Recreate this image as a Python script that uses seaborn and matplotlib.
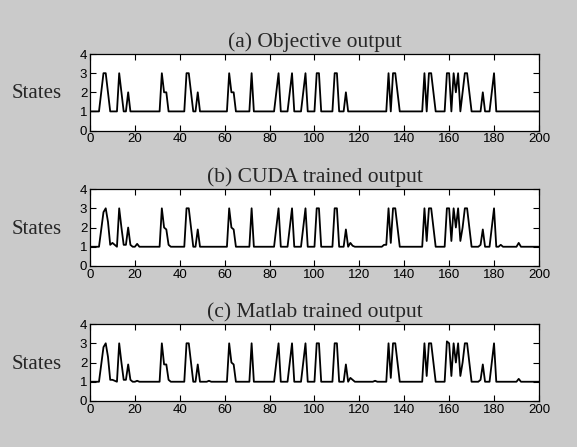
import numpy as np
import pandas as pd
import matplotlib
matplotlib.use("Agg")
import matplotlib.pyplot as plt
import seaborn as sns

# state sequences, time steps 0..200
time_steps = np.arange(0, 201)

objective = [
    1, 1, 1, 1, 1, 2, 3, 3, 2, 1, 1, 1, 1, 3, 2, 1, 1, 2, 1, 1,
    1, 1, 1, 1, 1, 1, 1, 1, 1, 1, 1, 1, 3, 2, 2, 1, 1, 1, 1, 1,
    1, 1, 1, 3, 3, 2, 1, 1, 2, 1, 1, 1, 1, 1, 1, 1, 1, 1, 1, 1,
    1, 1, 3, 2, 2, 1, 1, 1, 1, 1, 1, 1, 3, 1, 1, 1, 1, 1, 1, 1,
    1, 1, 1, 2, 3, 1, 1, 1, 1, 2, 3, 1, 1, 1, 1, 2, 3, 1, 1, 1,
    1, 3, 3, 1, 1, 1, 1, 1, 1, 3, 3, 1, 1, 1, 2, 1, 1, 1, 1, 1,
    1, 1, 1, 1, 1, 1, 1, 1, 1, 1, 1, 1, 1, 3, 1, 3, 3, 2, 1, 1,
    1, 1, 1, 1, 1, 1, 1, 1, 1, 3, 1, 3, 3, 2, 1, 1, 1, 1, 1, 3,
    3, 1, 3, 2, 3, 1, 2, 3, 3, 2, 1, 1, 1, 1, 1, 2, 1, 1, 1, 2,
    3, 1, 1, 1, 1, 1, 1, 1, 1, 1, 1, 1, 1, 1, 1, 1, 1, 1, 1, 1,
    1,
]

cuda_trained = [
    1, 1, 1, 1, 1, 1.9, 2.8, 3, 2.3, 1.1, 1.2, 1.1, 1, 3, 2, 1.1, 1.1, 2, 1.1, 1,
    1, 1.15, 1, 1, 1, 1, 1, 1, 1, 1, 1, 1, 3, 2, 1.9, 1.1, 1, 1, 1, 1,
    1, 1, 1, 3, 3, 2, 1, 1, 1.9, 1, 1, 1, 1, 1, 1, 1, 1, 1, 1, 1,
    1, 1, 3, 2, 1.9, 1, 1, 1, 1, 1, 1, 1, 3, 1, 1, 1, 1, 1, 1, 1,
    1, 1, 1, 2, 3, 1, 1, 1, 1, 2, 3, 1, 1, 1, 1, 2, 3, 1, 1, 1,
    1, 3, 3, 1, 1, 1, 1, 1, 1, 3, 3, 1, 1, 1, 1.9, 1, 1.2, 1.05, 1, 1,
    1, 1, 1, 1, 1, 1, 1, 1, 1, 1, 1, 1.1, 1.1, 3, 1.2, 3, 3, 2, 1, 1,
    1, 1, 1, 1, 1, 1, 1, 1, 1, 3, 1.3, 3, 3, 2, 1, 1, 1, 1, 1, 3,
    3, 1.3, 3, 2, 3, 1.3, 2, 3, 3, 2, 1, 1, 1, 1, 1.1, 1.9, 1, 1, 1, 2,
    3, 1, 1, 1.1, 1, 1, 1, 1, 1, 1, 1, 1.2, 1, 1, 1, 1, 1, 1, 1, 1,
    1,
]

matlab_trained = [
    1, 1, 1, 1, 1, 1.9, 2.8, 3, 2.3, 1.1, 1.1, 1.05, 1, 3, 2, 1.1, 1.1, 1.9, 1.1, 1,
    1, 1.05, 1, 1, 1, 1, 1, 1, 1, 1, 1, 1, 3, 1.9, 1.9, 1.1, 1, 1, 1, 1,
    1, 1, 1, 3, 3, 2, 1, 1, 1.9, 1, 1, 1, 1, 1.05, 1, 1, 1, 1, 1, 1,
    1, 1, 3, 2, 1.9, 1, 1, 1, 1, 1, 1, 1, 3, 1, 1, 1, 1, 1, 1, 1,
    1, 1, 1, 2, 3, 1, 1, 1, 1, 2, 3, 1, 1, 1, 1, 2, 3, 1, 1, 1,
    1, 3, 3, 1, 1, 1, 1, 1, 1, 3, 3, 1, 1, 1, 1.9, 1, 1.2, 1.1, 1, 1,
    1, 1, 1, 1, 1, 1, 1, 1.05, 1, 1, 1, 1, 1, 3, 1.2, 3, 3, 2, 1, 1,
    1, 1, 1, 1, 1, 1, 1, 1, 1, 3, 1.3, 3, 3, 2, 1, 1, 1, 1, 1, 3.1,
    3, 1.3, 3, 2, 3, 1.3, 2, 3, 3, 2, 1, 1, 1, 1, 1.1, 1.9, 1, 1, 1, 2,
    3, 1, 1, 1, 1, 1, 1, 1, 1, 1, 1, 1.15, 1, 1, 1, 1, 1, 1, 1, 1,
    1,
]

panel_titles = ["(a) Objective output", "(b) CUDA trained output", "(c) Matlab trained output"]
x_ticks = [0, 20, 40, 60, 80, 100, 120, 140, 160, 180, 200]
y_ticks = [0, 1, 2, 3, 4]

sns.set_style("ticks")
plt.rcParams["font.family"] = ["Liberation Sans", "DejaVu Sans"]

df = pd.concat([
    pd.DataFrame({"time": time_steps, "state": objective, "panel": panel_titles[0]}),
    pd.DataFrame({"time": time_steps, "state": cuda_trained, "panel": panel_titles[1]}),
    pd.DataFrame({"time": time_steps, "state": matlab_trained, "panel": panel_titles[2]}),
], ignore_index=True)

fig = plt.figure(figsize=(5.77, 4.47), dpi=100, facecolor="#cacaca")
boxes = [(0.156, 0.708, 0.778, 0.171),
         (0.156, 0.405, 0.778, 0.172),
         (0.156, 0.103, 0.778, 0.172)]

for box, title in zip(boxes, panel_titles):
    ax = fig.add_axes(box)
    ax.set_facecolor("white")
    sns.lineplot(data=df[df["panel"] == title], x="time", y="state",
                 ax=ax, color="black", linewidth=1.3)
    ax.set_xlim(0, 200)
    ax.set_ylim(0, 4)
    ax.set_xticks(x_ticks)
    ax.set_yticks(y_ticks)
    ax.tick_params(direction="in", length=4, width=0.8, top=True, right=True,
                   labelsize=9.5, pad=2, colors="black")
    for s in ax.spines.values():
        s.set_color("black")
        s.set_linewidth(0.9)
    ax.set_xlabel("")
    ax.set_ylabel("States", rotation=0, family="Liberation Serif", fontsize=15,
                  ha="right", va="center")
    ax.yaxis.set_label_coords(-0.062, 0.48)
    ax.set_title(title, family="Liberation Serif", fontsize=15.5, pad=5)

fig.savefig("out.png", dpi=100, facecolor=fig.get_facecolor())
